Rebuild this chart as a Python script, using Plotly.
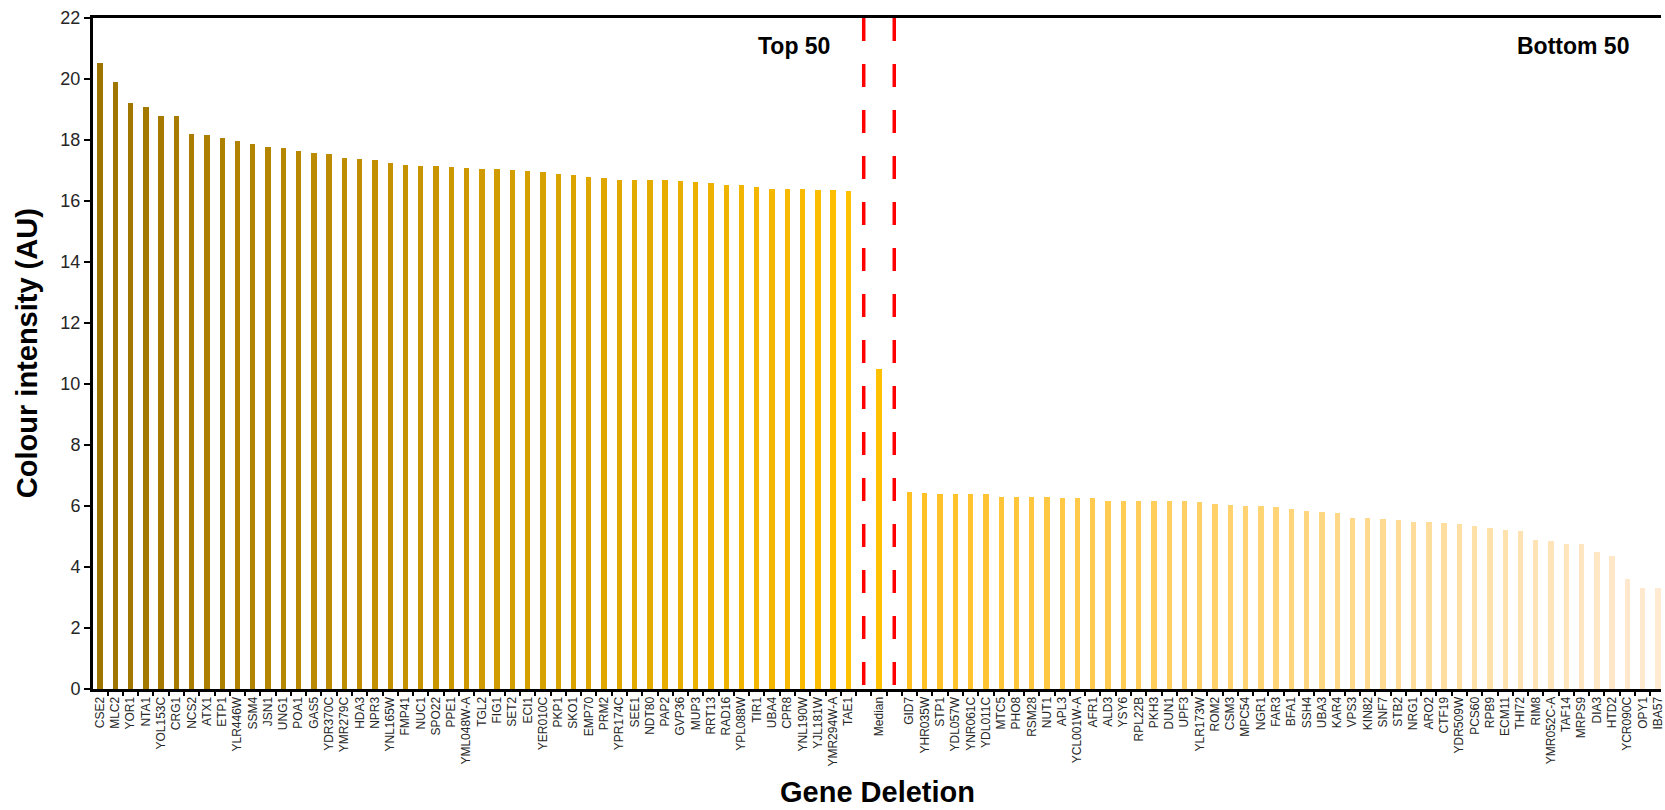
import plotly.graph_objects as go

top_genes = ["CSE2", "MLC2", "YOR1", "NTA1", "YOL153C", "CRG1", "NCS2", "ATX1", "ETP1", "YLR446W",
             "SSM4", "JSN1", "UNG1", "POA1", "GAS5", "YDR370C", "YMR279C", "HDA3", "NPR3", "YNL165W",
             "FMP41", "NUC1", "SPO22", "PPE1", "YML048W-A", "TGL2", "FIG1", "SET2", "ECI1", "YER010C",
             "PKP1", "SKO1", "EMP70", "PRM2", "YPR174C", "SEE1", "NDT80", "PAP2", "GVP36", "MUP3",
             "RRT13", "RAD16", "YPL088W", "TIR1", "UBA4", "CPR8", "YNL190W", "YJL181W", "YMR294W-A", "TAE1"]
top_values = [20.52, 19.89, 19.22, 19.09, 18.80, 18.80, 18.21, 18.17, 18.08, 17.98,
              17.88, 17.78, 17.75, 17.65, 17.58, 17.55, 17.42, 17.39, 17.36, 17.26,
              17.19, 17.16, 17.15, 17.12, 17.08, 17.05, 17.04, 17.03, 17.00, 16.95,
              16.88, 16.85, 16.78, 16.75, 16.69, 16.69, 16.69, 16.69, 16.65, 16.62,
              16.58, 16.51, 16.51, 16.45, 16.38, 16.38, 16.38, 16.35, 16.35, 16.32]

median_label = "Median"
median_value = 10.48

bottom_genes = ["GID7", "YHR035W", "STP1", "YDL057W", "YNR061C", "YDL011C", "MTC5", "PHO8", "RSM28", "NUT1",
                "APL3", "YCL001W-A", "AFR1", "ALD3", "YSY6", "RPL22B", "PKH3", "DUN1", "UPF3", "YLR173W",
                "ROM2", "CSM3", "MPC54", "NGR1", "FAR3", "BFA1", "SSH4", "UBA3", "KAR4", "VPS3",
                "KIN82", "SNF7", "STB2", "NRG1", "ARO2", "CTF19", "YDR509W", "PCS60", "RPB9", "ECM11",
                "THI72", "RIM8", "YMR052C-A", "TAF14", "MRPS9", "DIA3", "HTD2", "YCR090C", "OPY1", "IBA57"]
bottom_values = [6.47, 6.44, 6.40, 6.40, 6.40, 6.40, 6.31, 6.31, 6.31, 6.31,
                 6.27, 6.27, 6.27, 6.17, 6.17, 6.17, 6.17, 6.17, 6.17, 6.14,
                 6.08, 6.04, 6.01, 6.00, 5.97, 5.90, 5.84, 5.80, 5.77, 5.61,
                 5.61, 5.57, 5.54, 5.48, 5.48, 5.44, 5.41, 5.34, 5.28, 5.21,
                 5.18, 4.89, 4.85, 4.75, 4.75, 4.49, 4.36, 3.61, 3.31, 3.31]

y_ticks = [0, 2, 4, 6, 8, 10, 12, 14, 16, 18, 20, 22]

# ---- category layout: top 50, spacer, median, spacer, bottom 50 ----
labels = top_genes + [""] + [median_label] + [""] + bottom_genes
n_top = len(top_genes)
x_top = list(range(n_top))
sep1 = n_top
x_med = n_top + 1
sep2 = n_top + 2
x_bot = [n_top + 3 + i for i in range(len(bottom_genes))]
n_all = len(labels)


def hex2rgb(h):
    h = h.lstrip("#")
    return tuple(int(h[i:i + 2], 16) for i in (0, 2, 4))


def grad(c0, c1, n):
    a, b = hex2rgb(c0), hex2rgb(c1)
    out = []
    for i in range(n):
        t = i / (n - 1) if n > 1 else 0
        out.append("rgb(%d,%d,%d)" % tuple(round(a[k] + (b[k] - a[k]) * t) for k in range(3)))
    return out


top_colors = grad("#9E7400", "#FFC000", n_top)
bot_colors = grad("#FFC022", "#FFEAD2", len(bottom_genes))

fig = go.Figure()
fig.add_trace(go.Bar(x=x_top, y=top_values, marker=dict(color=top_colors, line=dict(width=0)),
                     width=0.35, showlegend=False))
fig.add_trace(go.Bar(x=[x_med], y=[median_value], marker=dict(color="#FFC000", line=dict(width=0)),
                     width=0.35, showlegend=False))
fig.add_trace(go.Bar(x=x_bot, y=bottom_values, marker=dict(color=bot_colors, line=dict(width=0)),
                     width=0.35, showlegend=False))

for xs in (sep1, sep2):
    fig.add_shape(type="line", xref="x", yref="y", x0=xs, x1=xs, y0=22, y1=0,
                  line=dict(color="#FF0000", width=3.5, dash="23px,23px"), layer="above")

font_family = "Liberation Sans, Arial, sans-serif"

# Full-window figure (body margin removed in post_script); plot area at x 93..1665, y 18..689.
W, H = 1665, 810
L, T, B = 93, 18, 121
PW, PH = W - L, H - T - B


def px_x(page_x):
    return (page_x - L) / PW


def px_y(page_y):
    return (H - B - page_y) / PH


fig.update_layout(
    width=W, height=H, autosize=False,
    margin=dict(l=L, r=0, t=T, b=B, pad=0),
    plot_bgcolor="white", paper_bgcolor="white",
    bargap=0,
    font=dict(family=font_family, color="#000000"),
    xaxis=dict(
        range=[-0.46, n_all - 1 + 0.2],
        tickmode="array", tickvals=list(range(n_all)), ticktext=labels,
        tickangle=-90, tickfont=dict(size=12, color="#262626", family=font_family),
        ticklabeloverflow="allow",
        ticks="", showgrid=False, zeroline=False,
        showline=True, linecolor="black", linewidth=3, mirror=True,
        minor=dict(tickmode="linear", tick0=-0.5, dtick=1, ticks="outside", ticklen=4,
                   tickwidth=2, tickcolor="black", showgrid=False),
        fixedrange=True,
    ),
    yaxis=dict(
        range=[0, 22], tickmode="array", tickvals=y_ticks,
        ticks="outside", ticklen=6, tickwidth=2, tickcolor="black",
        tickfont=dict(size=18, color="#262626", family=font_family),
        showgrid=False, zeroline=False,
        showline=True, linecolor="black", linewidth=3,
    ),
    annotations=[
        dict(text="<b>Top 50</b>", xref="paper", yref="paper", x=px_x(796), y=px_y(46),
             showarrow=False, font=dict(size=23, color="#000000"), xanchor="center", yanchor="middle"),
        dict(text="<b>Bottom 50</b>", xref="paper", yref="paper", x=px_x(1577), y=px_y(46),
             showarrow=False, font=dict(size=23, color="#000000"), xanchor="center", yanchor="middle"),
        dict(text="<b>Gene Deletion</b>", xref="paper", yref="paper", x=px_x(879), y=px_y(792),
             showarrow=False, font=dict(size=29, color="#000000"), xanchor="center", yanchor="middle"),
        dict(text="<b>Colour intensity (AU)</b>", xref="paper", yref="paper", x=px_x(27),
             y=px_y(353), textangle=-90,
             showarrow=False, font=dict(size=29, color="#000000"), xanchor="center", yanchor="middle"),
    ],
)

fig.write_html("out.html",
               config={"displayModeBar": False},
               post_script="document.body.style.margin='0';"
                           "document.documentElement.style.overflow='hidden';")
